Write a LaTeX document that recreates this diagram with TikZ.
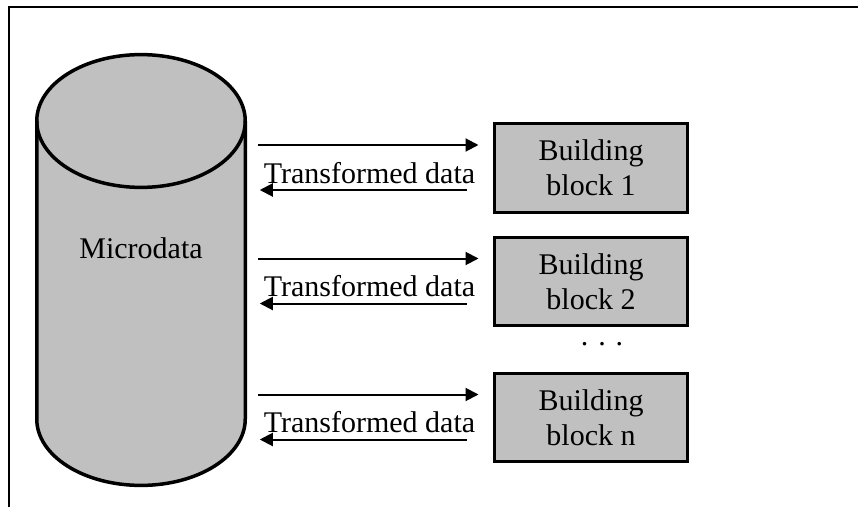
\documentclass[tikz,border=0pt]{standalone}
\usepackage{fontspec}
\setmainfont{Liberation Serif}
\usetikzlibrary{arrows.meta,positioning}
\definecolor{silver}{RGB}{192,192,192}
\newcommand{\figfont}{\fontsize{30}{35}\selectfont}

\begin{document}
\begin{tikzpicture}[x=1pt,y=1pt,
  block/.style={draw,line width=3pt,fill=silver,minimum width=193pt,minimum height=88pt,
    inner sep=0pt,align=center,font=\figfont},
  flow/.style={line width=2pt,-{Triangle[length=13pt,width=13pt]}}]
\useasboundingbox (0,0) rectangle (858,507);
% frame (only top and left edges are visible)
\draw[line width=2.2pt] (9,0) -- (9,500) -- (858,500);
% microdata cylinder
\def\rx{104.25}
\def\ry{66.4}
\filldraw[fill=silver,line width=3.5pt] (36.75,386) -- (36.75,88)
  arc[start angle=180,end angle=360,x radius=\rx,y radius=\ry] -- (245.25,386)
  arc[start angle=0,end angle=180,x radius=\rx,y radius=\ry] -- cycle;
\draw[line width=3.5pt] (36.75,386) arc[start angle=180,end angle=360,x radius=\rx,y radius=\ry];
\node[anchor=base,font=\figfont] (micro) at (141,249) {Microdata};
% building blocks with their two-way arrows
\foreach \i/\y/\t in {1/339/1,2/225.5/2,3/89.5/n}{
  \node[block] (b\i) at (591,\y) {Building\\block \t};
  \coordinate (db\i) at (245.25,\y);
  \draw[flow,shorten <=12.75pt,shorten >=14.5pt] ([yshift=23pt]db\i) -- ([yshift=23pt]b\i.west);
  \draw[flow,shorten <=26.5pt,shorten >=14.5pt] ([yshift=-22pt]b\i.west) -- ([yshift=-22pt]db\i);
  \node[anchor=base,font=\figfont] (lab\i) at ([xshift=-123.5pt,yshift=-15pt]b\i.west) {Transformed data};
}
\node[anchor=base,font=\figfont] (dots) at (602,162) {. . .};
\end{tikzpicture}
\end{document}
